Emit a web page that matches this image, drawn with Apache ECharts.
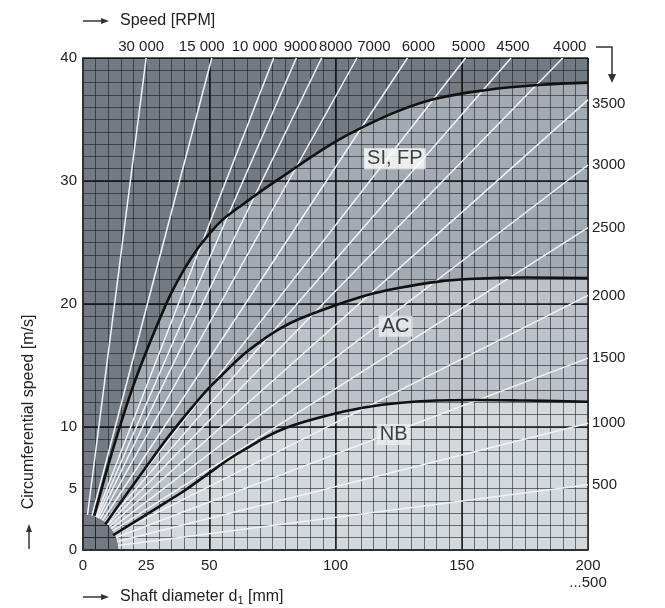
<!DOCTYPE html>
<html>
<head>
<meta charset="utf-8">
<script src="https://cdn.jsdelivr.net/npm/echarts@6/dist/echarts.min.js"></script>
<style>
  html, body { margin: 0; padding: 0; background: #fff; }
  #chart { width: 665px; height: 608px; }
</style>
</head>
<body>
<div id="chart"></div>
<script>
// speed lines that leave the plot through the top edge (v = 40 m/s), end point d [mm]
const topSpeeds = ['30 000', '15 000', '10 000', '9000', '8000', '7000', '6000', '5000', '4500', '4000'];
const topEndX = [25, 51, 75.5, 84.5, 94.5, 108.5, 128.5, 151.5, 169.5, 190];
// speed lines that leave through the right edge (d = 200 mm), end point v [m/s]
const rightSpeeds = ['3500', '3000', '2500', '2000', '1500', '1000', '500'];
const rightEndY = [36.6, 31.3, 26.2, 20.7, 15.6, 10.3, 5.3];

// limit curves [d mm, v m/s]
const curveSI = [[4.5, 2.8], [10, 6.9], [15, 10.3], [20, 13.4], [25, 16.1], [30, 18.6], [35, 20.9],
  [40, 22.8], [45, 24.4], [50, 25.7], [55, 26.8], [62, 27.9], [70, 29.1], [80, 30.5], [90, 31.9],
  [100, 33.2], [110, 34.3], [125, 35.7], [140, 36.7], [160, 37.4], [180, 37.8], [200, 38.0]];
const curveAC = [[8.8, 2.1], [15, 3.9], [22, 5.9], [28, 7.6], [33, 9.0], [38, 10.3], [43.6, 11.7],
  [50, 13.2], [55.4, 14.3], [63, 15.8], [71.3, 17.1], [78, 18.0], [85.8, 18.8], [100, 19.9],
  [112, 20.7], [125, 21.3], [140, 21.8], [155, 22.05], [175, 22.15], [200, 22.1]];
const curveNB = [[11.9, 1.2], [19.8, 2.2], [26, 3.0], [33, 3.9], [40, 4.8], [46.2, 5.7], [53, 6.7],
  [59.4, 7.6], [66, 8.4], [72.6, 9.2], [80, 9.9], [88, 10.45], [100, 11.1], [112, 11.6],
  [125, 11.95], [140, 12.15], [155, 12.2], [175, 12.15], [200, 12.05]];

const regionNames = ['SI, FP', 'AC', 'NB'];
const regionLabelAt = [[123.5, 31.8], [123.8, 18.2], [123, 9.4]];

const xTickLabels = [0, 25, 50, 100, 150, 200];
const yTickLabels = [0, 5, 10, 20, 30, 40];
const xStep = 5, yStep = 1;      // fine grid
const cornerRadius = 14;         // mm, dark corner where the speed lines start

const FONT = '"Liberation Sans", Arial, Helvetica, sans-serif';
const TXT = '#222';
const C_DARK = '#737a81';
const C_MID = '#a3aab1';
const C_LIGHT = '#bcc2c8';
const C_LIGHTEST = '#d3d8dc';
const MINOR = 'rgba(15,20,25,0.55)';
const MAJOR = 'rgba(0,0,0,0.85)';

const chart = echarts.init(document.getElementById('chart'));

const speedEnds = topEndX.map(x => [x, 40]).concat(rightEndY.map(y => [200, y]));
const topDx = [-5, -10, -19, 4, 14, 17, 11, 3, 2, 7];

const crisp = p => Math.round(p - 0.5) + 0.5;

function fillSeries(data, color) {
  return {
    type: 'line', data: data, smooth: 0.4, symbol: 'none', silent: true, z: 1,
    lineStyle: { width: 0 },
    areaStyle: { color: color, opacity: 1, origin: 'start' }
  };
}
function curveSeries(data) {
  return {
    type: 'line', data: data, smooth: 0.4, symbol: 'none', silent: true, z: 5,
    lineStyle: { width: 2.6, color: '#111' }
  };
}

chart.setOption({
  animation: false,
  grid: {
    left: 83, right: 77, top: 58, bottom: 58,
    show: true, backgroundColor: C_DARK, borderWidth: 0
  },
  xAxis: [{
    type: 'value', min: 0, max: 200, interval: xStep, position: 'bottom', z: 3,
    axisLine: { show: true, onZero: false, lineStyle: { color: '#333', width: 1.5 } },
    axisTick: { show: false },
    axisLabel: {
      color: TXT, fontSize: 15, fontFamily: FONT, margin: 7, lineHeight: 17,
      showMinLabel: true, showMaxLabel: true,
      formatter: v => xTickLabels.includes(v) ? (v === 200 ? '200\n...500' : String(v)) : ''
    },
    splitLine: { show: true, lineStyle: { color: MINOR, width: 1 } }
  }, {
    type: 'value', min: 0, max: 200, interval: 50, position: 'top', z: 3,
    axisLine: { show: true, lineStyle: { color: '#333', width: 1.5 } },
    axisTick: { show: false }, axisLabel: { show: false },
    splitLine: { show: true, lineStyle: { color: MAJOR, width: 1.5 } }
  }],
  yAxis: [{
    type: 'value', min: 0, max: 40, interval: yStep, position: 'left', z: 3,
    axisLine: { show: true, onZero: false, lineStyle: { color: '#333', width: 1.5 } },
    axisTick: { show: false },
    axisLabel: {
      color: TXT, fontSize: 15, fontFamily: FONT, margin: 6,
      showMinLabel: true, showMaxLabel: true,
      formatter: v => yTickLabels.includes(v) ? String(v) : ''
    },
    splitLine: { show: true, lineStyle: { color: MINOR, width: 1 } }
  }, {
    type: 'value', min: 0, max: 40, interval: 10, position: 'right', z: 3,
    axisLine: { show: true, lineStyle: { color: '#333', width: 1.5 } },
    axisTick: { show: false }, axisLabel: { show: false },
    splitLine: { show: true, lineStyle: { color: MAJOR, width: 1.5 } }
  }],
  series: [
    fillSeries(curveSI, C_MID),
    fillSeries(curveAC, C_LIGHT),
    fillSeries(curveNB, C_LIGHTEST),
    {
      // dark corner round the origin; it ends up above the axis grid,
      // so it carries its own piece of the fine grid and border
      type: 'custom', z: 2, silent: true, data: [[0, 0]],
      renderItem: (params, api) => {
        const o = api.coord([0, 0]);
        const r = api.size([cornerRadius, 0])[0];
        const children = [{
          type: 'sector',
          shape: { cx: o[0], cy: o[1], r0: 0, r: r, startAngle: -Math.PI / 2, endAngle: 0, clockwise: true },
          style: { fill: C_DARK }
        }];
        for (let x = xStep; ; x += xStep) {
          const px = api.coord([x, 0])[0] - o[0];
          if (px >= r) break;
          const h = Math.sqrt(r * r - px * px);
          const cx = crisp(o[0] + px);
          children.push({ type: 'line', shape: { x1: cx, y1: o[1], x2: cx, y2: o[1] - h },
            style: { stroke: '#3d4247', lineWidth: 1 } });
        }
        for (let y = yStep; ; y += yStep) {
          const py = o[1] - api.coord([0, y])[1];
          if (py >= r) break;
          const w = Math.sqrt(r * r - py * py);
          const cy = crisp(o[1] - py);
          children.push({ type: 'line', shape: { x1: o[0], y1: cy, x2: o[0] + w, y2: cy },
            style: { stroke: '#3d4247', lineWidth: 1 } });
        }
        children.push({ type: 'polyline', shape: { points: [[o[0], o[1] - r], [o[0], o[1]], [o[0] + r, o[1]]] },
          style: { stroke: '#333', lineWidth: 1.5, fill: null } });
        return { type: 'group', children: children };
      }
    },
    {
      // speed lines (white), starting at the edge of the corner
      type: 'custom', z: 4, silent: true, data: speedEnds,
      renderItem: (params, api) => {
        const o = api.coord([0, 0]);
        const e = api.coord([api.value(0), api.value(1)]);
        const r = api.size([cornerRadius, 0])[0];
        const dx = e[0] - o[0], dy = e[1] - o[1];
        const len = Math.hypot(dx, dy);
        return {
          type: 'line',
          shape: { x1: o[0] + dx / len * r, y1: o[1] + dy / len * r, x2: e[0], y2: e[1] },
          style: { stroke: '#f0f4f8', lineWidth: 1.5 }
        };
      }
    },
    curveSeries(curveSI),
    curveSeries(curveAC),
    curveSeries(curveNB),
    {
      // speed labels on top
      type: 'custom', z: 6, silent: true, clip: false,
      data: topEndX.map((x, i) => [x, 40, i]),
      renderItem: (params, api) => {
        const i = api.value(2);
        const p = api.coord([api.value(0), api.value(1)]);
        return {
          type: 'text', x: p[0] + topDx[i], y: p[1] - 11,
          style: { text: topSpeeds[i], fill: TXT, font: '15px ' + FONT, align: 'center', verticalAlign: 'middle' }
        };
      }
    },
    {
      // speed labels on the right
      type: 'custom', z: 6, silent: true, clip: false,
      data: rightEndY.map((y, i) => [200, y, i]),
      renderItem: (params, api) => {
        const i = api.value(2);
        const p = api.coord([api.value(0), api.value(1)]);
        return {
          type: 'text', x: p[0] + 4, y: p[1] + (i === 0 ? 4 : 0),
          style: { text: rightSpeeds[i], fill: TXT, font: '15px ' + FONT, align: 'left', verticalAlign: 'middle' }
        };
      }
    },
    {
      type: 'scatter', z: 6, silent: true, symbolSize: 0,
      data: regionLabelAt.map((p, i) => ({
        value: p,
        label: { backgroundColor: i === 0 ? '#ffffff' : '#eceff1' }
      })),
      label: {
        show: true, position: 'inside', color: '#111', fontSize: 20, fontFamily: FONT,
        padding: [1, 3, 0, 3],
        formatter: p => regionNames[p.dataIndex]
      }
    }
  ],
  graphic: [
    // top-left "→ Speed [RPM]"
    { type: 'line', shape: { x1: 83, y1: 21, x2: 103, y2: 21 }, style: { stroke: '#333', lineWidth: 1.5 } },
    { type: 'polygon', shape: { points: [[101, 18], [109, 21], [101, 24]] }, style: { fill: '#333' } },
    { type: 'text', x: 120, y: 21, style: { text: 'Speed [RPM]', fill: TXT, font: '16px ' + FONT, verticalAlign: 'middle' } },
    // top-right bent arrow
    { type: 'polyline', shape: { points: [[596, 47], [612, 47], [612, 76]] }, style: { stroke: '#333', lineWidth: 1.5, fill: null } },
    { type: 'polygon', shape: { points: [[608, 74], [616, 74], [612, 83]] }, style: { fill: '#333' } },
    // bottom "→ Shaft diameter d1 [mm]"
    { type: 'line', shape: { x1: 83, y1: 597, x2: 103, y2: 597 }, style: { stroke: '#333', lineWidth: 1.5 } },
    { type: 'polygon', shape: { points: [[101, 594], [109, 597], [101, 600]] }, style: { fill: '#333' } },
    {
      type: 'text', x: 120, y: 597,
      style: {
        text: 'Shaft diameter d{sub|1} [mm]', fill: TXT, font: '16px ' + FONT, verticalAlign: 'middle',
        rich: { sub: { fontSize: 11, fontFamily: FONT, fill: TXT, padding: [8, 0, 0, 0] } }
      }
    },
    // left "↑ Circumferential speed [m/s]"
    { type: 'line', shape: { x1: 29, y1: 549, x2: 29, y2: 530 }, style: { stroke: '#333', lineWidth: 1.5 } },
    { type: 'polygon', shape: { points: [[26, 532], [29, 524], [32, 532]] }, style: { fill: '#333' } },
    {
      type: 'text', x: 29, y: 412, rotation: Math.PI / 2,
      style: { text: 'Circumferential speed [m/s]', fill: TXT, font: '16px ' + FONT, align: 'center', verticalAlign: 'middle' }
    }
  ]
});
</script>
</body>
</html>
